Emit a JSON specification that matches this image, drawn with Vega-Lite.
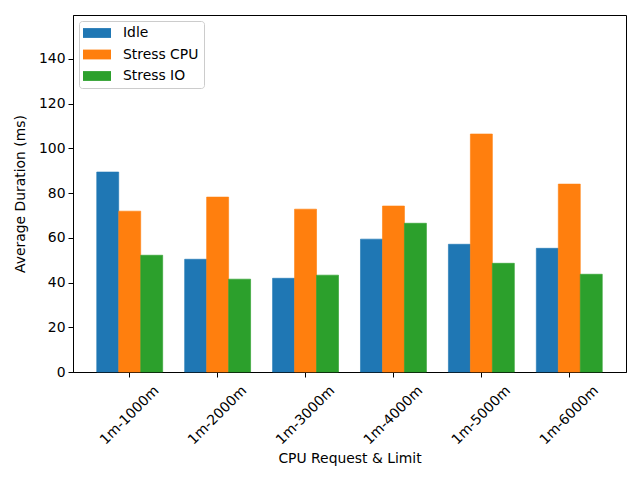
{
  "$schema": "https://vega.github.io/schema/vega-lite/v6.json",
  "width": 553,
  "height": 357,
  "autosize": {"type": "none"},
  "padding": {"left": 73, "top": 15, "right": 14, "bottom": 108},
  "background": "white",
  "view": {"stroke": "black", "strokeWidth": 1},
  "data": {
    "values": [
      {"cpu": "1m-1000m", "series": "Idle", "duration": 89.4},
      {"cpu": "1m-1000m", "series": "Stress CPU", "duration": 71.9},
      {"cpu": "1m-1000m", "series": "Stress IO", "duration": 52.2},
      {"cpu": "1m-2000m", "series": "Idle", "duration": 50.4},
      {"cpu": "1m-2000m", "series": "Stress CPU", "duration": 78.2},
      {"cpu": "1m-2000m", "series": "Stress IO", "duration": 41.5},
      {"cpu": "1m-3000m", "series": "Idle", "duration": 41.9},
      {"cpu": "1m-3000m", "series": "Stress CPU", "duration": 72.8},
      {"cpu": "1m-3000m", "series": "Stress IO", "duration": 43.3},
      {"cpu": "1m-4000m", "series": "Idle", "duration": 59.4},
      {"cpu": "1m-4000m", "series": "Stress CPU", "duration": 74.2},
      {"cpu": "1m-4000m", "series": "Stress IO", "duration": 66.5},
      {"cpu": "1m-5000m", "series": "Idle", "duration": 57.1},
      {"cpu": "1m-5000m", "series": "Stress CPU", "duration": 106.4},
      {"cpu": "1m-5000m", "series": "Stress IO", "duration": 48.6},
      {"cpu": "1m-6000m", "series": "Idle", "duration": 55.3},
      {"cpu": "1m-6000m", "series": "Stress CPU", "duration": 84.0},
      {"cpu": "1m-6000m", "series": "Stress IO", "duration": 43.7}
    ]
  },
  "mark": {"type": "bar", "strokeWidth": 0.6},
  "encoding": {
    "x": {
      "field": "cpu",
      "type": "nominal",
      "title": "CPU Request & Limit",
      "scale": {"paddingInner": 0.25, "paddingOuter": 0.27},
      "axis": {
        "labelAngle": -45,
        "labelAlign": "center",
        "labelBaseline": "middle",
        "labelPadding": 38,
        "tickSize": 5,
        "titlePadding": 5
      }
    },
    "xOffset": {"field": "series", "type": "nominal", "scale": {"paddingInner": 0, "paddingOuter": 0}},
    "y": {
      "field": "duration",
      "type": "quantitative",
      "title": "Average Duration (ms)",
      "scale": {"domain": [0, 159.6], "nice": false},
      "axis": {
        "values": [0, 20, 40, 60, 80, 100, 120, 140],
        "tickSize": 5,
        "grid": false,
        "labelPadding": 3,
        "titlePadding": 11
      }
    },
    "stroke": {
      "field": "series",
      "type": "nominal",
      "scale": {
        "domain": ["Idle", "Stress CPU", "Stress IO"],
        "range": ["#1f77b4", "#ff7f0e", "#2ca02c"]
      },
      "legend": null
    },
    "color": {
      "field": "series",
      "type": "nominal",
      "scale": {
        "domain": ["Idle", "Stress CPU", "Stress IO"],
        "range": ["#1f77b4", "#ff7f0e", "#2ca02c"]
      },
      "legend": {
        "title": null,
        "orient": "top-left",
        "offset": 6,
        "padding": 5,
        "rowPadding": 7.5,
        "strokeColor": "#cccccc",
        "fillColor": "rgba(255,255,255,0.8)",
        "cornerRadius": 3,
        "symbolType": "M-2,-0.7H2V0.7H-2Z",
        "symbolSize": 196,
        "symbolOffset": 6,
        "symbolStrokeWidth": 0,
        "symbolOpacity": 1,
        "labelOffset": 19,
        "labelFontSize": 13.9,
        "labelFont": "DejaVu Sans",
        "labelColor": "black"
      }
    }
  },
  "config": {
    "font": "DejaVu Sans",
    "axis": {
      "labelFont": "DejaVu Sans",
      "labelFontSize": 13.9,
      "labelColor": "black",
      "titleFont": "DejaVu Sans",
      "titleFontSize": 13.9,
      "titleFontWeight": "normal",
      "titleColor": "black",
      "domainColor": "black",
      "tickColor": "black"
    }
  }
}
